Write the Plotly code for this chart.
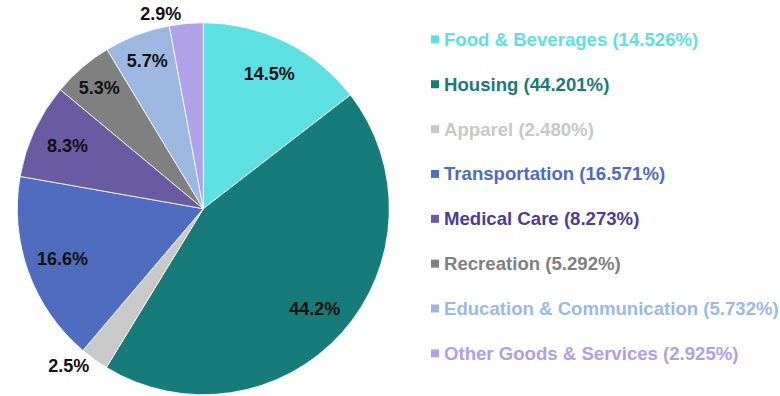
import plotly.graph_objects as go

categories = ["Food & Beverages", "Housing", "Apparel", "Transportation",
              "Medical Care", "Recreation", "Education & Communication",
              "Other Goods & Services"]
shares = [14.526, 44.201, 2.480, 16.571, 8.273, 5.292, 5.732, 2.925]
slice_colors = ["#5EE0E3", "#177B7A", "#C9C9C9", "#506CBE",
                "#6A5AA2", "#808080", "#9CB8E0", "#B0A2E8"]
legend_text_colors = ["#5EDFE3", "#1A7A7A", "#C8C8C8", "#4F6BBF",
                      "#4B3C96", "#808080", "#9CB9E1", "#AE9FE9"]
text_positions = ["inside", "inside", "outside", "inside",
                  "inside", "inside", "inside", "outside"]

W, H = 780, 396
FONT = "Liberation Sans, Arial, sans-serif"
pie_domain = dict(x=[(203.3 - 186) / W, (203.3 + 186) / W],
                  y=[1 - (208.7 + 186) / H, 1 - (208.7 - 186) / H])

fig = go.Figure()
# coloured slices
fig.add_trace(go.Pie(
    labels=categories,
    values=shares,
    sort=False,
    direction="clockwise",
    rotation=0,
    marker=dict(colors=slice_colors, line=dict(color="rgba(255,255,255,0.8)", width=1)),
    textinfo="none",
    domain=pie_domain,
    automargin=False,
    showlegend=False,
    hoverinfo="label+percent",
))
# transparent ring carrying the data labels near the outer edge
fig.add_trace(go.Pie(
    labels=categories,
    values=shares,
    sort=False,
    direction="clockwise",
    rotation=0,
    hole=0.61,
    marker=dict(colors=["rgba(0,0,0,0)"] * len(shares), line=dict(width=0)),
    texttemplate="%{percent:.1%}",
    textposition=text_positions,
    insidetextorientation="horizontal",
    textfont=dict(family=FONT, size=18, color="#111111", weight="bold"),
    domain=pie_domain,
    automargin=False,
    showlegend=False,
    hoverinfo="skip",
))

# custom legend (text coloured per item)
row0, step = 39.4, 44.85
for i, (cat, val) in enumerate(zip(categories, shares)):
    yc = 1 - (row0 + i * step) / H
    fig.add_shape(type="rect", xref="paper", yref="paper",
                  x0=431 / W, x1=439 / W, y0=yc - 4 / H, y1=yc + 4 / H,
                  fillcolor=slice_colors[i], line=dict(width=0))
    fig.add_annotation(xref="paper", yref="paper", x=441.5 / W, y=yc,
                       xanchor="left", yanchor="middle", showarrow=False,
                       text=f"{cat} ({val:.3f}%)",
                       font=dict(family=FONT, size=18.6, color=legend_text_colors[i],
                                 weight="bold"))

fig.update_layout(
    width=W, height=H,
    margin=dict(l=0, r=0, t=0, b=0),
    paper_bgcolor="white",
    plot_bgcolor="white",
    uniformtext=dict(minsize=18, mode="show"),
)

fig.write_html("out.html",
               config={"displayModeBar": False},
               post_script="document.body.style.margin='0';document.body.style.padding='0';")
